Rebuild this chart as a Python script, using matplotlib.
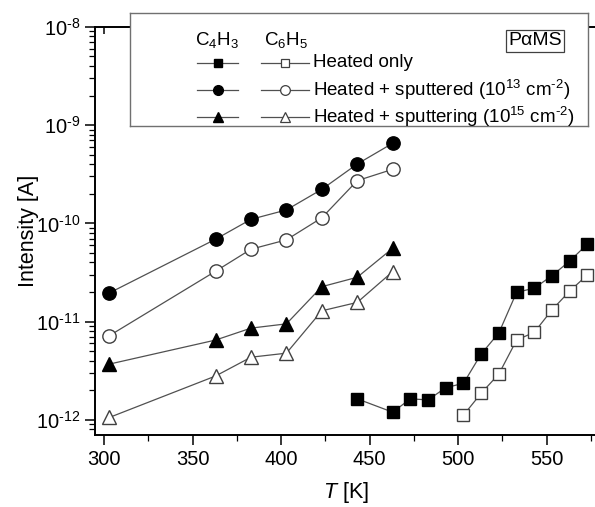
import math
import matplotlib
matplotlib.use("Agg")
import matplotlib.pyplot as plt
from matplotlib.ticker import FixedLocator, MultipleLocator, FuncFormatter, NullFormatter

plt.rcParams["font.family"] = ["Liberation Sans", "DejaVu Sans"]
plt.rcParams["mathtext.fontset"] = "custom"
plt.rcParams["mathtext.rm"] = "Liberation Sans"
plt.rcParams["mathtext.it"] = "Liberation Sans:italic"
plt.rcParams["mathtext.bf"] = "Liberation Sans:bold"

# C4H3 signal (filled markers) and C6H5 signal (open markers), intensity in A
T_sputter = [303, 363, 383, 403, 423, 443, 463]
c4h3_sput13 = [1.96e-11, 6.9e-11, 1.1e-10, 1.37e-10, 2.22e-10, 4.02e-10, 6.53e-10]
c6h5_sput13 = [7.2e-12, 3.26e-11, 5.46e-11, 6.8e-11, 1.14e-10, 2.72e-10, 3.55e-10]
c4h3_sput15 = [3.7e-12, 6.5e-12, 8.6e-12, 9.5e-12, 2.27e-11, 2.83e-11, 5.58e-11]
c6h5_sput15 = [1.06e-12, 2.8e-12, 4.35e-12, 4.78e-12, 1.29e-11, 1.57e-11, 3.23e-11]

T_heat_c4h3 = [443, 463, 473, 483, 493, 503, 513, 523, 533, 543, 553, 563, 573]
c4h3_heat = [1.64e-12, 1.2e-12, 1.64e-12, 1.6e-12, 2.13e-12, 2.36e-12, 4.69e-12,
             7.7e-12, 1.99e-11, 2.19e-11, 2.94e-11, 4.14e-11, 6.17e-11]
T_heat_c6h5 = [503, 513, 523, 533, 543, 553, 563, 573]
c6h5_heat = [1.12e-12, 1.87e-12, 2.94e-12, 6.5e-12, 7.8e-12, 1.32e-11, 2.05e-11, 2.99e-11]

x_ticks = [300, 350, 400, 450, 500, 550]
y_ticks = [1e-12, 1e-11, 1e-10, 1e-9, 1e-8]
legend_rows = ["Heated only",
               r"Heated + sputtered (10$^{13}$ cm$^{\text{-}2}$)",
               r"Heated + sputtering (10$^{15}$ cm$^{\text{-}2}$)"]

W, H = 595, 507
fig = plt.figure(figsize=(W / 100, H / 100), dpi=100)
ax = fig.add_axes([95 / W, 1 - 435 / H, 502 / W, (435 - 26.8) / H])

line_kw = dict(color="#505050", lw=0.9)
ms_c, ms_t, ms_s = 9.6, 10.4, 8.6


def series(x, y, marker, filled, ms):
    ax.plot(x, y, marker=marker, ms=ms, mfc="black" if filled else "white",
            mec="black" if filled else "#404040", mew=1.0, **line_kw)


series(T_sputter, c4h3_sput13, "o", True, ms_c)
series(T_sputter, c6h5_sput13, "o", False, ms_c)
series(T_sputter, c4h3_sput15, "^", True, ms_t)
series(T_sputter, c6h5_sput15, "^", False, ms_t)
series(T_heat_c4h3, c4h3_heat, "s", True, ms_s)
series(T_heat_c6h5, c6h5_heat, "s", False, ms_s)

ax.set_yscale("log")
ax.set_ylim(7.03e-13, 1e-8)
ax.set_xlim(294.9, 578.4)

ax.xaxis.set_major_locator(FixedLocator(x_ticks))
ax.xaxis.set_minor_locator(FixedLocator([325, 375, 425, 475, 525, 575]))
ax.xaxis.set_minor_formatter(NullFormatter())
minor_y = [m * 10.0 ** e for e in range(-13, -8) for m in range(2, 10)
           if 7.03e-13 <= m * 10.0 ** e <= 1e-8]
ax.yaxis.set_major_locator(FixedLocator(y_ticks))
ax.yaxis.set_minor_locator(FixedLocator(minor_y))
ax.yaxis.set_minor_formatter(NullFormatter())
ax.yaxis.set_major_formatter(
    FuncFormatter(lambda v, p: r"10$^{\text{-}%d}$" % -round(math.log10(v))))

ax.tick_params(axis="both", which="major", labelsize=14.5, width=1.1, length=7,
               direction="out", top=True, right=True, colors="black")
ax.tick_params(axis="both", which="minor", width=0.9, length=4, direction="out")
ax.tick_params(axis="x", which="minor", top=False)
ax.tick_params(axis="y", which="minor", right=False)
for t in ax.yaxis.get_major_ticks():
    t.tick2line.set_marker(1)
    t.tick2line.set_markersize(5)
for t in ax.xaxis.get_major_ticks():
    t.tick2line.set_marker(3)
    t.tick2line.set_markersize(5)

for s in ax.spines.values():
    s.set_linewidth(1.4)

ax.set_ylabel("Intensity [A]", fontsize=15.5, labelpad=-2)
ax.set_xlabel(r"$\mathit{T}$ [K]", fontsize=15.5, labelpad=8)

# Key box drawn on top, in pixel-like coordinates
lx0, ly0, lx1, ly1 = 130, 13, 588, 126
leg = fig.add_axes([lx0 / W, 1 - ly1 / H, (lx1 - lx0) / W, (ly1 - ly0) / H])
leg.set_xlim(lx0, lx1)
leg.set_ylim(ly1, ly0)
leg.set_xticks([])
leg.set_yticks([])
for s in leg.spines.values():
    s.set_color("#707070")
    s.set_linewidth(1.0)

fs = 13.5
leg.text(217, 40, r"C$_4$H$_3$", fontsize=fs, ha="center", va="center")
leg.text(286, 40, r"C$_6$H$_5$", fontsize=fs, ha="center", va="center")
leg.text(535, 41, "PαMS", fontsize=fs + 0.5, ha="center", va="center",
         bbox=dict(boxstyle="square,pad=0.12", fc="white", ec="#404040", lw=0.9))

rows_y = [63, 90, 117]
markers = ["s", "o", "^"]
msz = [6.0, 7.0, 7.5]
for y, m, s, label in zip(rows_y, markers, msz, legend_rows):
    leg.plot([197, 238], [y, y], color="#505050", lw=0.9)
    leg.plot([217.5], [y], marker=m, ms=s, mfc="black", mec="black", ls="none")
    leg.plot([261, 309], [y, y], color="#505050", lw=0.9)
    leg.plot([285], [y], marker=m, ms=s, mfc="white", mec="#404040", mew=0.9, ls="none")
    leg.text(313, y, label, fontsize=fs, ha="left", va="center")

fig.savefig("out.png", dpi=100)
